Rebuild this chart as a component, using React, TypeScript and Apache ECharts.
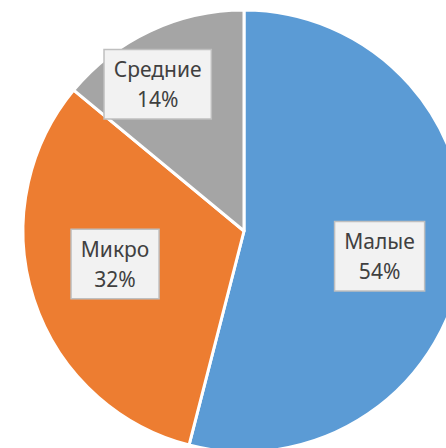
import React, { useEffect, useRef } from "react";
import * as echarts from "echarts";

const categories = ["Малые", "Микро", "Средние"];
const values = [54, 32, 14];
const colors = ["#5B9BD5", "#ED7D31", "#A5A5A5"];
const labelOffsets: [number, number][] = [
  [23, 11],
  [-21, -2],
  [-38, -44],
];

export default function App() {
  const ref = useRef<HTMLDivElement>(null);
  useEffect(() => {
    if (!ref.current) return;
    const chart = echarts.init(ref.current, null, { renderer: "svg" });
    chart.setOption({
      animation: false,
      backgroundColor: "#ffffff",
      series: [
        {
          type: "pie",
          center: [244, 231],
          radius: 221,
          startAngle: 90,
          clockwise: true,
          percentPrecision: 0,
          avoidLabelOverlap: false,
          itemStyle: { borderColor: "#ffffff", borderWidth: 3 },
          label: {
            show: true,
            position: "inside",
            formatter: "{b}\n{d}%",
            fontFamily: "Noto Sans",
            fontSize: 21,
            lineHeight: 30,
            color: "#404040",
            backgroundColor: "#F2F2F2",
            borderColor: "#BFBFBF",
            borderWidth: 1.5,
            padding: [4, 9],
          },
          labelLine: { show: false },
          emphasis: { disabled: true },
          data: categories.map((name, i) => ({
            name,
            value: values[i],
            itemStyle: { color: colors[i] },
            label: { offset: labelOffsets[i] },
          })),
        },
      ],
    });
    return () => chart.dispose();
  }, []);
  return (
    <div
      ref={ref}
      style={{ position: "fixed", left: 0, top: 0, width: 446, height: 448 }}
    />
  );
}
